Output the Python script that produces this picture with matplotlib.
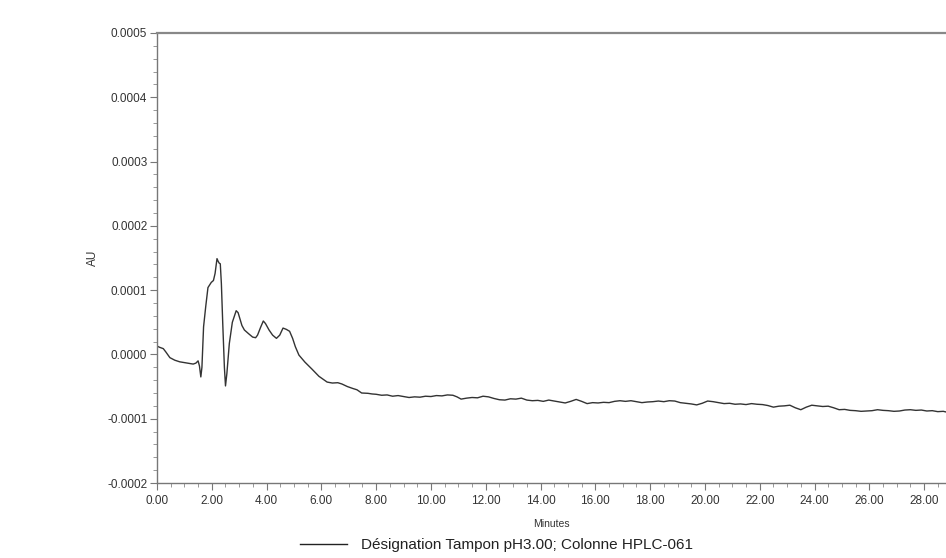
import matplotlib
matplotlib.use("Agg")
import matplotlib.pyplot as plt
from matplotlib.ticker import MultipleLocator, FormatStrFormatter
from matplotlib.lines import Line2D

plt.rcParams['font.family'] = ['Liberation Sans', 'DejaVu Sans']

# chromatogram (minutes, AU)
minutes = [0.00, 0.10, 0.23, 0.32, 0.47, 0.65, 0.83, 1.05, 1.32, 1.42, 1.50, 1.55, 1.60, 1.64,
           1.70, 1.78, 1.86, 1.98, 2.06, 2.12, 2.19, 2.23, 2.27, 2.31, 2.35, 2.40, 2.46, 2.50,
           2.55, 2.64, 2.75, 2.89, 2.96, 3.01, 3.10, 3.19, 3.35, 3.49, 3.60, 3.67, 3.78, 3.88,
           3.96, 4.09, 4.22, 4.36, 4.48, 4.60, 4.72, 4.84, 4.95, 5.05, 5.18, 5.40, 5.66, 5.91,
           6.21, 6.40, 6.60, 6.75, 6.95, 7.15, 7.30, 7.47, 7.70, 7.85,
           8.00, 8.20, 8.40, 8.60, 8.80, 9.00, 9.20, 9.40, 9.60, 9.80,
           10.00, 10.20, 10.40, 10.60, 10.80, 10.95, 11.10, 11.30, 11.50, 11.70, 11.90,
           12.10, 12.30, 12.50, 12.70, 12.90, 13.10, 13.30, 13.50, 13.70, 13.90,
           14.10, 14.30, 14.50, 14.70, 14.90, 15.10, 15.30, 15.50, 15.70, 15.90,
           16.10, 16.30, 16.50, 16.70, 16.90, 17.10, 17.30, 17.50, 17.70, 17.90,
           18.10, 18.30, 18.50, 18.70, 18.90, 19.10, 19.30, 19.50, 19.70, 19.90,
           20.10, 20.30, 20.50, 20.70, 20.90, 21.10, 21.30, 21.50, 21.70, 21.90,
           22.10, 22.30, 22.50, 22.70, 22.90, 23.10, 23.30, 23.50, 23.70, 23.90,
           24.10, 24.30, 24.50, 24.70, 24.90, 25.10, 25.30, 25.50, 25.70, 25.90,
           26.10, 26.30, 26.50, 26.70, 26.90, 27.10, 27.30, 27.50, 27.70, 27.90,
           28.10, 28.30, 28.50, 28.70, 28.80]
au = [1.3e-5, 1.1e-5, 0.9e-5, 0.4e-5, -0.5e-5, -0.9e-5, -1.15e-5, -1.3e-5, -1.5e-5, -1.35e-5,
      -1.0e-5, -1.8e-5, -3.5e-5, -2.0e-5, 4.3e-5, 7.5e-5, 10.4e-5, 11.2e-5, 11.5e-5, 12.6e-5,
      14.9e-5, 14.5e-5, 14.2e-5, 14.1e-5, 11.0e-5, 4.8e-5, -2.0e-5, -4.9e-5, -3.0e-5, 1.7e-5,
      5.0e-5, 6.8e-5, 6.5e-5, 5.8e-5, 4.5e-5, 3.8e-5, 3.2e-5, 2.7e-5, 2.6e-5, 3.0e-5, 4.2e-5,
      5.2e-5, 4.8e-5, 3.8e-5, 3.0e-5, 2.5e-5, 3.0e-5, 4.1e-5, 3.9e-5, 3.6e-5, 2.5e-5, 1.2e-5,
      -0.1e-5, -1.2e-5, -2.3e-5, -3.4e-5,
      -4.3e-5, -4.45e-5, -4.4e-5, -4.6e-5, -5.0e-5, -5.3e-5, -5.5e-5, -6.0e-5, -6.05e-5, -6.15e-5,
      -6.20e-5, -6.35e-5, -6.30e-5, -6.50e-5, -6.40e-5, -6.55e-5, -6.70e-5, -6.60e-5, -6.65e-5, -6.50e-5,
      -6.55e-5, -6.40e-5, -6.45e-5, -6.30e-5, -6.35e-5, -6.60e-5, -6.95e-5, -6.80e-5, -6.70e-5, -6.75e-5, -6.50e-5,
      -6.60e-5, -6.85e-5, -7.05e-5, -7.10e-5, -6.90e-5, -6.95e-5, -6.80e-5, -7.10e-5, -7.20e-5, -7.15e-5,
      -7.30e-5, -7.10e-5, -7.25e-5, -7.40e-5, -7.55e-5, -7.30e-5, -7.00e-5, -7.30e-5, -7.65e-5, -7.50e-5,
      -7.55e-5, -7.45e-5, -7.50e-5, -7.30e-5, -7.20e-5, -7.30e-5, -7.20e-5, -7.35e-5, -7.50e-5, -7.40e-5,
      -7.35e-5, -7.25e-5, -7.35e-5, -7.20e-5, -7.25e-5, -7.50e-5, -7.60e-5, -7.70e-5, -7.85e-5, -7.60e-5,
      -7.25e-5, -7.35e-5, -7.50e-5, -7.65e-5, -7.60e-5, -7.75e-5, -7.70e-5, -7.80e-5, -7.65e-5, -7.75e-5,
      -7.80e-5, -7.95e-5, -8.20e-5, -8.05e-5, -8.00e-5, -7.90e-5, -8.30e-5, -8.60e-5, -8.20e-5, -7.90e-5,
      -8.00e-5, -8.10e-5, -8.05e-5, -8.30e-5, -8.60e-5, -8.55e-5, -8.70e-5, -8.75e-5, -8.85e-5, -8.80e-5,
      -8.75e-5, -8.60e-5, -8.70e-5, -8.75e-5, -8.85e-5, -8.80e-5, -8.65e-5, -8.60e-5, -8.70e-5, -8.65e-5,
      -8.80e-5, -8.75e-5, -8.90e-5, -8.85e-5, -8.95e-5]

legend_label = "Désignation Tampon pH3.00; Colonne HPLC-061"

fig = plt.figure(figsize=(9.46, 5.58), dpi=100)
ax = fig.add_axes([157/946, 1-483/558, 1-157/946, (483-33)/558])

ax.plot(minutes, au, color='#333333', lw=1.0)

ax.set_xlim(0, 28.8)
ax.set_ylim(-0.0002, 0.0005)
ax.xaxis.set_major_locator(MultipleLocator(2))
ax.xaxis.set_minor_locator(MultipleLocator(0.5))
ax.yaxis.set_major_locator(MultipleLocator(0.0001))
ax.yaxis.set_minor_locator(MultipleLocator(0.00002))
ax.xaxis.set_major_formatter(FormatStrFormatter('%.2f'))
ax.yaxis.set_major_formatter(FormatStrFormatter('%.4f'))

ax.tick_params(which='major', length=5, width=0.8, color='#777777', labelsize=8.5, labelcolor='#333333')
ax.tick_params(which='minor', length=3, width=0.6, color='#888888')
ax.tick_params(axis='y', pad=2)
ax.tick_params(axis='x', pad=4)

for s in ['left', 'bottom']:
    ax.spines[s].set_color('#777777')
    ax.spines[s].set_linewidth(1.0)
ax.spines['top'].set_color('#888888')
ax.spines['top'].set_linewidth(1.6)
ax.spines['right'].set_visible(False)

ax.set_xlabel('Minutes', fontsize=7.5, color='#333333', labelpad=8)
ax.set_ylabel('AU', fontsize=8.5, color='#333333', labelpad=6)

handle = Line2D([], [], color='#222222', lw=1.0)
fig.legend([handle], [legend_label], loc='center left', bbox_to_anchor=(300/946, 1-545/558),
           frameon=False, fontsize=11, handlelength=3.1, handletextpad=0.9,
           borderpad=0, borderaxespad=0, labelcolor='#222222')

fig.savefig('out.png', dpi=100)
